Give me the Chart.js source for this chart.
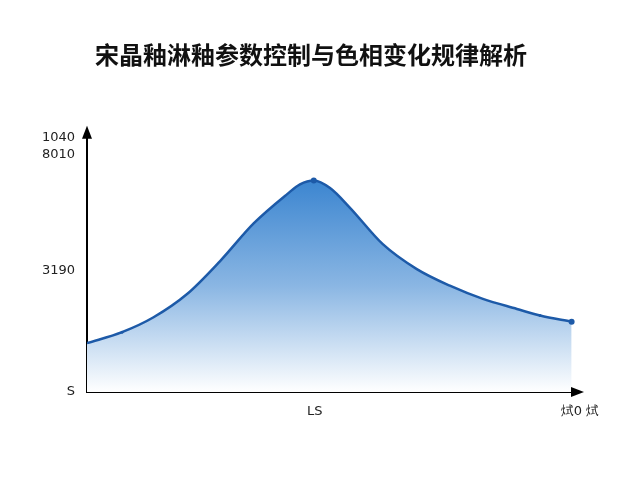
<!DOCTYPE html>
<html>
<head>
<meta charset="utf-8">
<script src="https://cdn.jsdelivr.net/npm/chart.js@4"></script>
<style>
  html, body { margin: 0; padding: 0; background: #ffffff; }
  #wrap { width: 640px; height: 480px; }
</style>
</head>
<body>
<div id="wrap"><canvas id="glazeChart" width="640" height="480"></canvas></div>
<script>
var titleText = '宋晶釉淋釉参数控制与色相变化规律解析';

// curve (x on a 0-100 axis)
var xValues = [0, 7.1, 13.5, 20.3, 27.0, 33.8, 40.6, 43.2, 46.0, 49.3, 53.3, 60.0, 66.9, 73.6, 80.3, 87.2, 91.9, 98.3];
var yValues = [200, 245, 306, 401, 536, 690, 810, 850, 866, 835, 755, 605, 503, 435, 381, 340, 313, 288];
var markerSizes = [0, 1.5, 0, 0, 0, 0, 0, 0, 3, 0, 0, 0, 0, 0, 0, 0, 1.5, 3];

var yTickValues = [0, 496, 971, 1040];
var yTickLabels = ['S', '3190', '8010', '1040'];
var xTickValues = [46.2, 100];
var xTickLabels = ['LS', '烒0 烒'];

var points = [];
for (var i = 0; i < xValues.length; i++) {
    points.push({ x: xValues[i], y: yValues[i] });
}

// arrow heads on both axes
var axisArrows = {
    id: 'axisArrows',
    afterDraw: function (chart) {
        var ctx = chart.ctx;
        var a = chart.chartArea;
        ctx.save();
        ctx.fillStyle = '#000000';
        ctx.beginPath();
        ctx.moveTo(a.left, a.top - 6);
        ctx.lineTo(a.left - 5, a.top + 7);
        ctx.lineTo(a.left + 5, a.top + 7);
        ctx.closePath();
        ctx.fill();
        ctx.beginPath();
        ctx.moveTo(a.right + 4, a.bottom);
        ctx.lineTo(a.right - 9, a.bottom - 5);
        ctx.lineTo(a.right - 9, a.bottom + 5);
        ctx.closePath();
        ctx.fill();
        ctx.restore();
    }
};

const ctx = document.getElementById('glazeChart');

new Chart(ctx, {
    type: 'line',
    data: {
        datasets: [{
            data: points,
            borderColor: '#1d5aa8',
            borderWidth: 2.5,
            pointRadius: markerSizes,
            pointBackgroundColor: '#1d5aa8',
            pointBorderWidth: 0,
            cubicInterpolationMode: 'monotone',
            fill: 'origin',
            backgroundColor: function (context) {
                var chart = context.chart;
                var a = chart.chartArea;
                if (!a) {
                    return 'rgba(60,135,210,0.6)';
                }
                var g = chart.ctx.createLinearGradient(0, chart.scales.y.getPixelForValue(870), 0, a.bottom);
                g.addColorStop(0, '#3b85d0');
                g.addColorStop(0.5, '#8ab6e3');
                g.addColorStop(1, '#ffffff');
                return g;
            }
        }]
    },
    options: {
        responsive: false,
        animation: false,
        layout: {
            padding: { left: 42, right: 60, top: 32, bottom: 0 }
        },
        scales: {
            x: {
                type: 'linear',
                min: 0,
                max: 100,
                grid: { display: false, drawTicks: false },
                border: { color: '#000000', width: 2 },
                afterBuildTicks: function (scale) {
                    scale.ticks = xTickValues.map(function (v) { return { value: v }; });
                },
                afterFit: function (scale) {
                    scale.height = 88;
                },
                ticks: {
                    autoSkip: false,
                    maxRotation: 0,
                    padding: 12,
                    color: '#222222',
                    font: { family: 'DejaVu Sans', size: 13 },
                    callback: function (value) {
                        var idx = xTickValues.indexOf(value);
                        return idx >= 0 ? xTickLabels[idx] : '';
                    }
                }
            },
            y: {
                min: 0,
                max: 1065,
                grid: { display: false, drawTicks: false },
                border: { color: '#000000', width: 2 },
                afterBuildTicks: function (scale) {
                    scale.ticks = yTickValues.map(function (v) { return { value: v }; });
                },
                afterFit: function (scale) {
                    scale.width = 45;
                },
                ticks: {
                    autoSkip: false,
                    padding: 12,
                    color: '#222222',
                    font: { family: 'DejaVu Sans', size: 13 },
                    callback: function (value) {
                        var idx = yTickValues.indexOf(value);
                        return idx >= 0 ? yTickLabels[idx] : '';
                    }
                }
            }
        },
        plugins: {
            legend: { display: false },
            tooltip: { enabled: false },
            title: {
                display: true,
                text: titleText,
                color: '#111111',
                font: { family: 'Noto Sans CJK SC', size: 24, weight: 'bold' },
                padding: { top: 8, bottom: 63 }
            }
        }
    },
    plugins: [axisArrows]
});
</script>
</body>
</html>
